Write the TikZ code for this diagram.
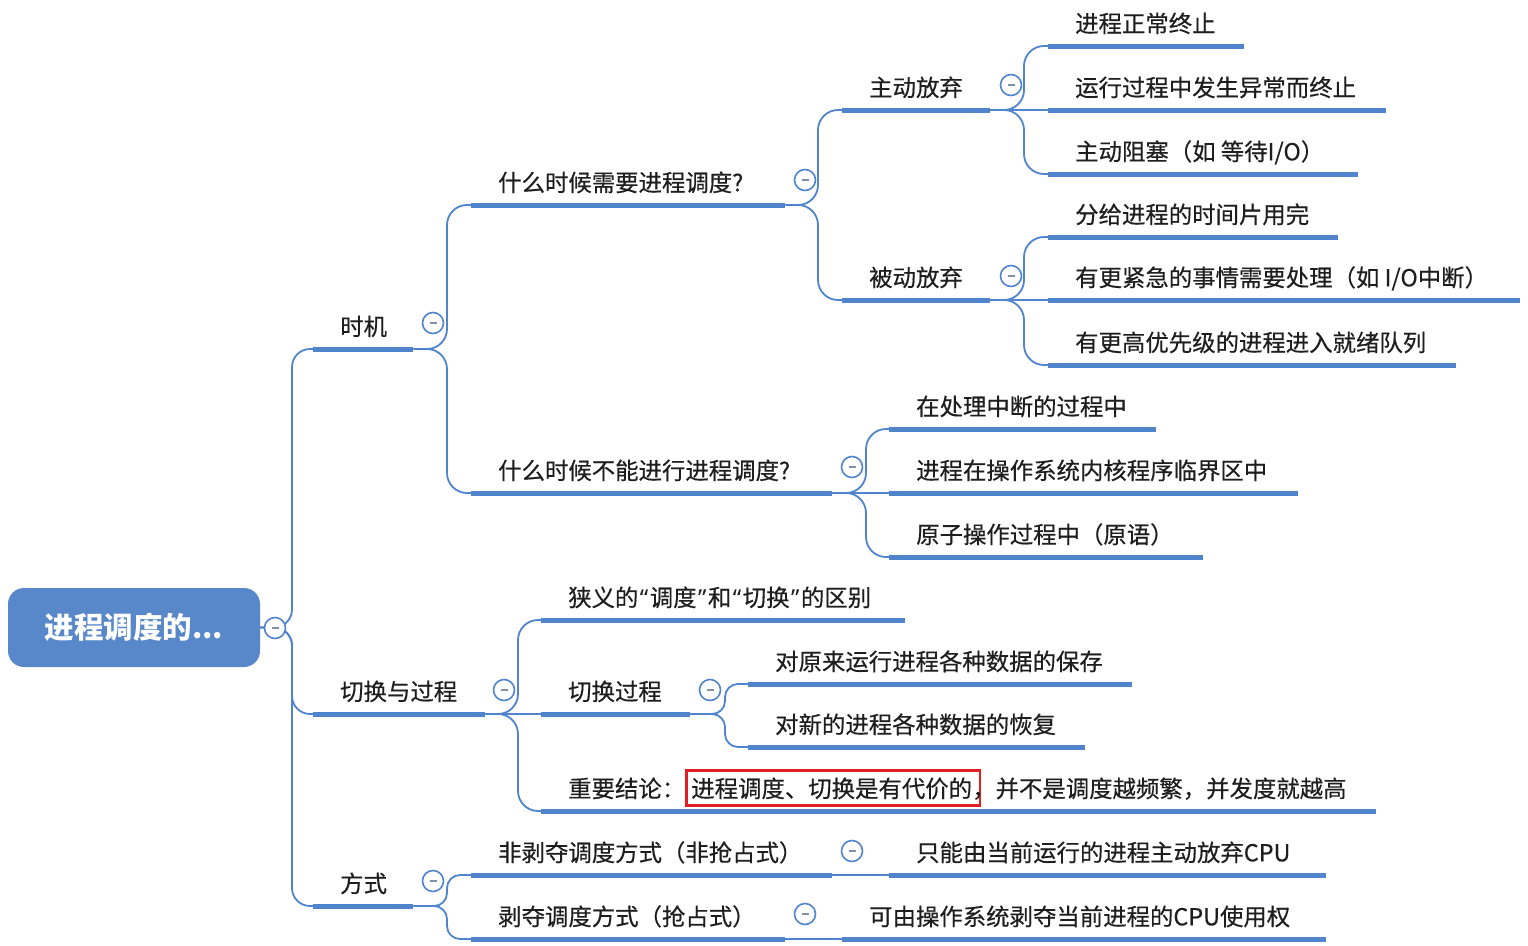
\documentclass[tikz,border=0pt]{standalone}
\usepackage{fontspec}
\setmainfont{Noto Sans CJK SC}
\newfontfamily\latinq{Noto Sans}
\usetikzlibrary{calc}
\definecolor{mblue}{RGB}{80,133,205}
\definecolor{rootblue}{RGB}{88,136,202}
\definecolor{txt}{RGB}{30,30,30}
\definecolor{boxred}{RGB}{225,30,35}
\definecolor{minusgray}{RGB}{130,145,170}
\newcommand\mmtopic[5]{\node[topic] (#1) at (#2,#3) {\makebox[\dimexpr#4pt-54pt\relax][l]{#5}};}
\newcommand\mmlink[4]{\draw[conn,rounded corners=#4] (#1.south east) -| (#3 |- #2.south west) -- (#2.south west);}
\newcommand\mmstraight[2]{\draw[conn] (#1.south east) -- (#2.south west);}
\newcommand\mmlq{{\latinq\kern1.5pt“\kern1.5pt}}
\newcommand\mmrq{{\latinq\kern1.5pt”\kern1.5pt}}
\tikzset{
  topic/.style={anchor=south west, inner xsep=27pt, inner ysep=0pt, text height=21pt, text depth=13.5pt, text=txt, font=\fontsize{23.4}{27}\selectfont\addfontfeature{FakeBold=0.4}},
  conn/.style={draw=mblue, line width=1.8pt},
  uline/.style={draw=mblue, line width=5pt},
  fold/.style={circle, draw=mblue, line width=1.6pt, fill=white, minimum size=21pt, inner sep=0pt,
    path picture={\draw[minusgray, line width=1.4pt] ([xshift=-3.5pt]path picture bounding box.center) -- ([xshift=3.5pt]path picture bounding box.center);}},
  rootbox/.style={rounded corners=16pt, fill=rootblue, minimum width=252pt, minimum height=79pt, text=white, font=\fontsize{29.5}{33}\selectfont\bfseries}
}
\begin{document}
\begin{tikzpicture}[x=1pt,y=-1pt]
\useasboundingbox (0,0) rectangle (1528,945);
\fill[white] (0,0) rectangle (1528,945);
% root
\node[rootbox] (root) at (134,627.5) {进程调度的...};
% level 1
\mmtopic{t1}{313}{349}{100}{时机}
\mmtopic{t2}{313}{714}{172}{切换与过程}
\mmtopic{t3}{313}{906}{100}{方式}
% 时机
\mmtopic{a1}{471}{205}{314}{什么时候需要进程调度?}
\mmtopic{a2}{471}{493}{361}{什么时候不能进行进程调度?}
\mmtopic{b1}{842}{110}{148}{主动放弃}
\mmtopic{b2}{842}{300}{148}{被动放弃}
\mmtopic{c1}{1048}{46}{196}{进程正常终止}
\mmtopic{c2}{1048}{110}{338}{运行过程中发生异常而终止}
\mmtopic{c3}{1048}{174}{310}{主动阻塞（如 等待I/O）}
\mmtopic{c4}{1048}{237}{290}{分给进程的时间片用完}
\mmtopic{c5}{1048}{300}{472}{有更紧急的事情需要处理（如 I/O中断）}
\mmtopic{c6}{1048}{365}{408}{有更高优先级的进程进入就绪队列}
\mmtopic{d1}{889}{429}{267}{在处理中断的过程中}
\mmtopic{d2}{889}{493}{409}{进程在操作系统内核程序临界区中}
\mmtopic{d3}{889}{557}{314}{原子操作过程中（原语）}
% 切换与过程
\mmtopic{e1}{541}{620}{364}{狭义的\mmlq 调度\mmrq 和\mmlq 切换\mmrq 的区别}
\mmtopic{e2}{541}{714}{149}{切换过程}
\mmtopic{e3}{541}{811}{835}{重要结论：{\setlength{\fboxsep}{3.5pt}\setlength{\fboxrule}{2.6pt}\fcolorbox{boxred}{white}{\rule[-3.5pt]{0pt}{25.5pt}进程调度、切换是有代价的\hspace{3pt}}}\kern-9pt，并不是调度越频繁，并发度就越高}
\mmtopic{f1}{748}{684}{384}{对原来运行进程各种数据的保存}
\mmtopic{f2}{748}{747}{337}{对新的进程各种数据的恢复}
% 方式
\mmtopic{g1}{471}{875}{361}{非剥夺调度方式（非抢占式）}
\mmtopic{g2}{471}{939}{314}{剥夺调度方式（抢占式）}
\mmtopic{h1}{889}{875}{437}{只能由当前运行的进程主动放弃CPU}
\mmtopic{h2}{842}{939}{484}{可由操作系统剥夺当前进程的CPU使用权}
% branch x positions
\coordinate (k0) at (292,0);
\coordinate (k1) at (447,0);
\coordinate (k2) at (818,0);
\coordinate (k3) at (1024,0);
\coordinate (k4) at (866,0);
\coordinate (k5) at (518,0);
\coordinate (k6) at (725,0);
% connectors
\draw[conn,rounded corners=18pt] (root.east) -| (k0 |- t1.south west) -- (t1.south west);
\draw[conn,rounded corners=18pt] (root.east) -| (k0 |- t2.south west) -- (t2.south west);
\draw[conn,rounded corners=18pt] (root.east) -| (k0 |- t3.south west) -- (t3.south west);
\mmlink{t1}{a1}{k1}{20pt}
\mmlink{t1}{a2}{k1}{20pt}
\mmlink{a1}{b1}{k2}{20pt}
\mmlink{a1}{b2}{k2}{20pt}
\mmlink{b1}{c1}{k3}{20pt}
\mmstraight{b1}{c2}
\mmlink{b1}{c3}{k3}{20pt}
\mmlink{b2}{c4}{k3}{20pt}
\mmstraight{b2}{c5}
\mmlink{b2}{c6}{k3}{20pt}
\mmlink{a2}{d1}{k4}{20pt}
\mmstraight{a2}{d2}
\mmlink{a2}{d3}{k4}{20pt}
\mmlink{t2}{e1}{k5}{20pt}
\mmstraight{t2}{e2}
\mmlink{t2}{e3}{k5}{20pt}
\mmlink{e2}{f1}{k6}{13pt}
\mmlink{e2}{f2}{k6}{13pt}
\mmlink{t3}{g1}{k1}{13pt}
\mmlink{t3}{g2}{k1}{13pt}
\mmstraight{g1}{h1}
\mmstraight{g2}{h2}
% underlines
\foreach \n in {t1,t2,t3,a1,a2,b1,b2,c1,c2,c3,c4,c5,c6,d1,d2,d3,e1,e2,e3,f1,f2,g1,g2,h1,h2}
  \draw[uline] (\n.south west) -- (\n.south east);
% collapse markers
\node[fold] (m0) at (275,628) {};
\node[fold] (m1) at (433,323) {};
\node[fold] (m2) at (805,180) {};
\node[fold] (m3) at (1011,85) {};
\node[fold] (m4) at (1011,276) {};
\node[fold] (m5) at (852,467) {};
\node[fold] (m6) at (504,690) {};
\node[fold] (m7) at (710,690) {};
\node[fold] (m8) at (433,881) {};
\node[fold] (m9) at (852,851) {};
\node[fold] (m10) at (805,914) {};
\end{tikzpicture}
\end{document}
